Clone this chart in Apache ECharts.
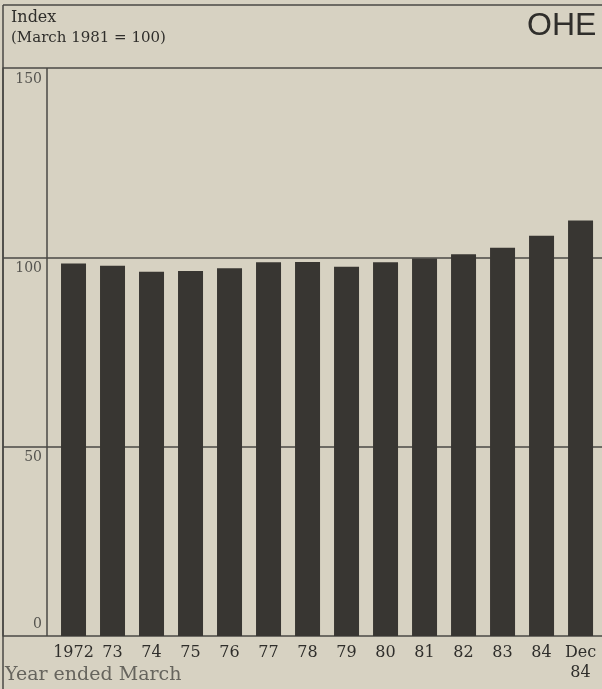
<!DOCTYPE html>
<html>
<head>
<meta charset="utf-8">
<script src="https://cdn.jsdelivr.net/npm/echarts@6/dist/echarts.min.js"></script>
<style>
  html, body { margin: 0; padding: 0; background: #d7d2c2; }
  #chart { width: 602px; height: 689px; }
</style>
</head>
<body>
<div id="chart"></div>
<script>
// Year ended March, index values (March 1981 = 100)
const categories = ['1972', '73', '74', '75', '76', '77', '78', '79', '80', '81', '82', '83', '84', 'Dec\n84'];
const indexValues = [98.4, 97.8, 96.2, 96.4, 97.1, 98.7, 98.8, 97.5, 98.7, 99.7, 100.8, 102.5, 105.7, 109.7];
const yTicks = [0, 50, 100, 150];

const ink = '#2f2e2b';
const lineCol = '#4a4944';
const serif = '"DejaVu Serif", "Liberation Serif", serif';

const chart = echarts.init(document.getElementById('chart'), null, { renderer: 'canvas' });

const barData = indexValues.map((v, i) => [i, v]);

chart.setOption({
  backgroundColor: '#d7d2c2',
  animation: false,
  grid: { left: 3, right: 0, top: 68, bottom: 53, containLabel: false },
  xAxis: {
    type: 'value',
    min: -1.808,
    max: 13.55,
    axisLine: { show: false },
    axisTick: { show: false },
    splitLine: { show: false },
    axisLabel: {
      customValues: categories.map((c, i) => i),
      formatter: v => categories[Math.round(v)],
      color: ink,
      fontFamily: serif,
      fontSize: 16,
      lineHeight: 20,
      margin: 7,
      verticalAlign: 'top'
    }
  },
  yAxis: {
    type: 'value',
    min: 0,
    max: 150,
    interval: 50,
    axisLine: { show: true, onZero: false, lineStyle: { color: lineCol, width: 1.5 } },
    axisTick: { show: false },
    splitLine: { show: true, lineStyle: { color: lineCol, width: 1.5 } },
    axisLabel: {
      inside: true,
      align: 'right',
      margin: 39,
      verticalAlign: 'middle',
      color: '#55544f',
      fontFamily: serif,
      fontSize: 14,
      customValues: yTicks,
      formatter: v => (v === 0 ? '{up|0}' : '{dn|' + v + '}'),
      rich: {
        up: { padding: [0, 0, 24, 0], fontFamily: serif, fontSize: 14, color: '#55544f' },
        dn: { padding: [22, 0, 0, 0], fontFamily: serif, fontSize: 14, color: '#55544f' }
      }
    }
  },
  series: [{
    type: 'bar',
    data: barData,
    barWidth: 25,
    itemStyle: { color: '#383632' },
    markLine: {
      silent: true,
      symbol: ['none', 'none'],
      label: { show: false },
      lineStyle: { color: lineCol, width: 1.5, type: 'solid' },
      data: [{ xAxis: -0.68 }]
    }
  }],
  graphic: [
    // frame of the panel
    { type: 'line', shape: { x1: 3, y1: 5, x2: 602, y2: 5 }, style: { stroke: lineCol, lineWidth: 1.5 } },
    { type: 'line', shape: { x1: 3, y1: 5, x2: 3, y2: 689 }, style: { stroke: lineCol, lineWidth: 1.5 } },
    // header texts
    { type: 'text', left: 11, top: 10, style: { text: 'Index', font: '16px ' + serif, fill: ink } },
    { type: 'text', left: 11, top: 31, style: { text: '(March 1981 = 100)', font: '15px ' + serif, fill: ink } },
    // publisher mark
    { type: 'text', left: 527, top: 10, style: { text: 'OHE', font: '32px "Liberation Sans", sans-serif', fill: '#2f2e2b' } },
    // axis title
    { type: 'text', left: 5, top: 666, style: { text: 'Year ended March', font: '19px ' + serif, fill: '#66645d' } }
  ]
});
</script>
</body>
</html>
